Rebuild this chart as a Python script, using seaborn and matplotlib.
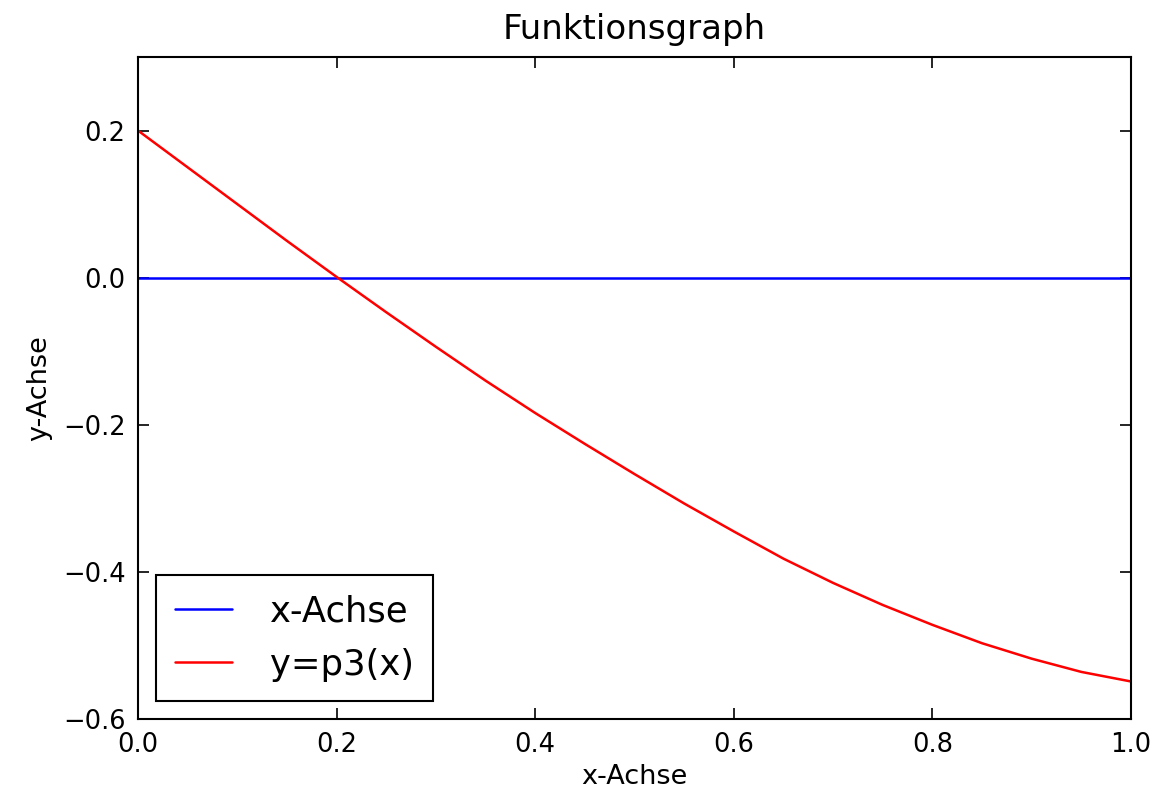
import matplotlib
matplotlib.use("Agg")
import matplotlib.pyplot as plt
import pandas as pd
import seaborn as sns

# values
axis_x = [0.0, 1.0]
axis_y = [0.0, 0.0]

p3_x = [0.00, 0.05, 0.10, 0.15, 0.20, 0.25, 0.30, 0.35, 0.40, 0.45, 0.50,
        0.55, 0.60, 0.65, 0.70, 0.75, 0.80, 0.85, 0.90, 0.95, 1.00]
p3_y = [0.200, 0.150, 0.100, 0.050, 0.001, -0.047, -0.094, -0.140, -0.184,
        -0.226, -0.267, -0.307, -0.345, -0.382, -0.415, -0.445, -0.472,
        -0.497, -0.518, -0.536, -0.549]

x_ticks = [0.0, 0.2, 0.4, 0.6, 0.8, 1.0]
y_ticks = [-0.6, -0.4, -0.2, 0.0, 0.2]


def main():
    sns.set_style("ticks", {
        "xtick.direction": "in",
        "ytick.direction": "in",
        "xtick.top": True,
        "ytick.right": True,
        "axes.edgecolor": "black",
        "text.color": "black",
        "axes.labelcolor": "black",
        "xtick.color": "black",
        "ytick.color": "black",
    })
    plt.rcParams["font.family"] = ["DejaVu Sans"]

    axis_df = pd.DataFrame({"x": axis_x, "y": axis_y})
    p3_df = pd.DataFrame({"x": p3_x, "y": p3_y})

    fig = plt.figure(figsize=(11.64, 8.0), dpi=100)
    ax = fig.add_axes([138 / 1164, 81 / 800, 993 / 1164, 662 / 800])

    sns.lineplot(data=axis_df, x="x", y="y", color="#0000ff", lw=1.8,
                 label="x-Achse", ax=ax)
    sns.lineplot(data=p3_df, x="x", y="y", color="#ff0000", lw=1.8,
                 label="y=p3(x)", ax=ax)

    ax.set_xlim(0.0, 1.0)
    ax.set_ylim(-0.6, 0.3)
    ax.set_xticks(x_ticks)
    ax.set_yticks(y_ticks)
    ax.tick_params(axis="both", which="major", length=8, width=1.2,
                   labelsize=18.5, pad=9, top=True, right=True)
    for spine in ax.spines.values():
        spine.set_linewidth(1.5)
        spine.set_color("black")

    ax.set_title("Funktionsgraph", fontsize=24.5, pad=13)
    ax.set_xlabel("x-Achse", fontsize=19.5, labelpad=5)
    ax.set_ylabel("y-Achse", fontsize=19.5, labelpad=8)

    leg = ax.legend(loc="lower left", fontsize=25.5, fancybox=False,
                    framealpha=1, edgecolor="black", handlelength=1.6,
                    handletextpad=1.07, borderpad=0.55, labelspacing=0.55,
                    borderaxespad=0.5)
    leg.get_frame().set_linewidth(1.5)

    fig.savefig("out.png", dpi=100)


if __name__ == "__main__":
    main()
